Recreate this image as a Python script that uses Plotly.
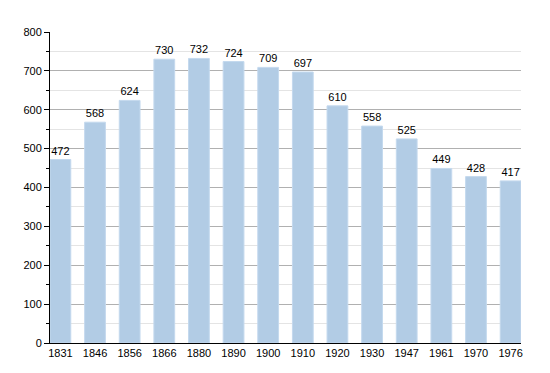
import plotly.graph_objects as go

years = ["1831", "1846", "1856", "1866", "1880", "1890", "1900", "1910", "1920", "1930", "1947", "1961", "1970", "1976"]
population = [472, 568, 624, 730, 732, 724, 709, 697, 610, 558, 525, 449, 428, 417]

fig = go.Figure()
fig.add_trace(go.Bar(
    x=list(range(len(years))),
    y=population,
    width=0.6,
    marker=dict(color="#b2cce5", line=dict(color="#c4d9ee", width=1)),
    text=[str(v) for v in population],
    textposition="outside",
    textfont=dict(family="Liberation Sans, Arial", size=11, color="black"),
    cliponaxis=False,
))

# page body has an 8px default margin, so the figure is sized to fit the window
fig.update_layout(
    width=542, height=365,
    margin=dict(l=42, r=29, t=24, b=30),
    paper_bgcolor="white", plot_bgcolor="white",
    showlegend=False,
    font=dict(family="Liberation Sans, Arial", size=11, color="black"),
)
fig.update_xaxes(
    range=[-0.3, 13.3],
    tickmode="array",
    tickvals=list(range(len(years))),
    ticktext=years,
    showline=True, linecolor="black", linewidth=1,
    showgrid=False, ticks="", zeroline=False,
    tickfont=dict(size=11),
)
fig.update_yaxes(
    range=[0, 800],
    dtick=100,
    showline=True, linecolor="black", linewidth=1,
    ticks="outside", ticklen=5, tickcolor="black",
    showgrid=True, gridcolor="#b0b0b0", gridwidth=1,
    zeroline=False,
    tickfont=dict(size=11),
    minor=dict(dtick=50, ticks="outside", ticklen=3, tickcolor="black",
               showgrid=True, gridcolor="#e4e4e4", gridwidth=1),
)

fig.write_html("out.html")
